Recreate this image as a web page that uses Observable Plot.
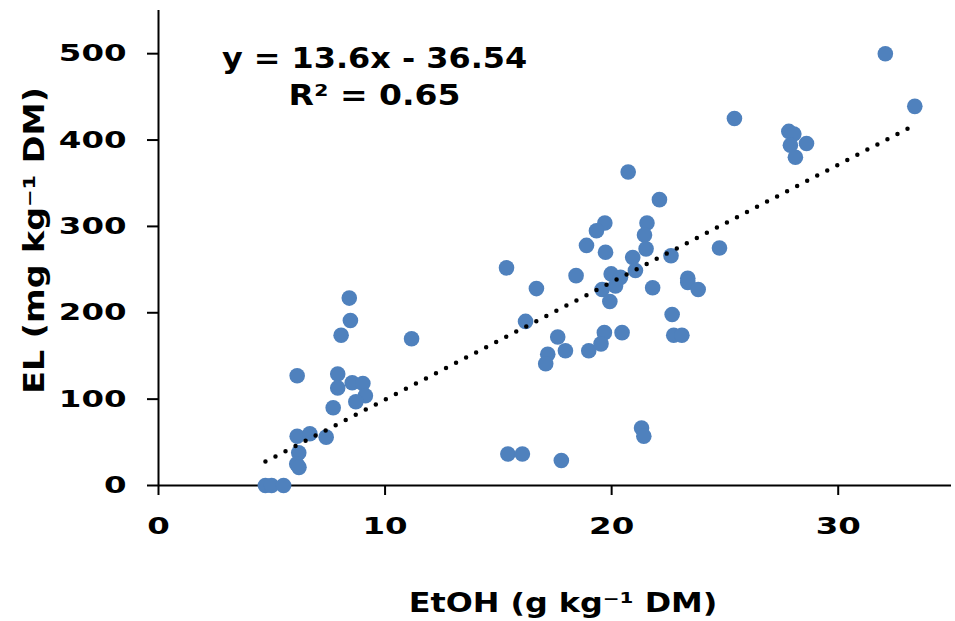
<!DOCTYPE html>
<html>
<head>
<meta charset="utf-8">
<script src="https://cdn.jsdelivr.net/npm/d3@7"></script>
<script src="https://cdn.jsdelivr.net/npm/@observablehq/plot@0.6"></script>
<style>
  html, body { margin: 0; padding: 0; background: #fff; }
</style>
</head>
<body>
<div id="chart"></div>
<script>
// EtOH (g kg-1 DM)
const etoh = [
  4.72, 4.99, 5.52,
  8.42, 8.47, 8.06, 11.17, 6.12, 7.91, 7.91, 8.55, 9.02, 9.13, 8.71, 7.71, 6.12, 6.68, 7.40, 6.19, 6.10, 6.20,
  20.73, 22.11, 19.70, 19.33, 21.56, 21.45, 21.52, 18.89, 19.73, 24.76, 22.62, 20.93, 21.05, 15.36, 18.43,
  19.98, 20.39, 20.17, 19.58, 19.92, 21.81, 23.36, 23.36, 23.82, 16.68, 22.67, 16.20, 17.62, 19.68, 20.46,
  22.74, 23.10,
  17.18, 17.09, 17.96, 18.99, 19.53, 21.32, 21.42, 15.42, 16.06, 17.78,
  32.08, 33.38, 25.42, 27.82, 28.04, 27.89, 28.60, 28.11
];
// EL (mg kg-1 DM)
const el = [
  0, 0, 0,
  217, 191, 174, 170, 127, 129, 113, 119, 118, 104, 97, 90, 57, 60, 56, 38, 25, 21,
  363, 331, 304, 295, 304, 290, 274, 278, 270, 275, 266, 264, 249, 252, 243,
  245, 241, 231, 227, 213, 229, 240, 235, 227, 228, 198, 190, 172, 177, 177,
  174, 174,
  152, 141, 156, 156, 164, 66.5, 57, 36.5, 36.5, 29,
  500, 439, 425, 410, 407, 394, 396, 380
];
// Linear trendline reported on the chart
const slope = 13.6;
const intercept = -36.54;
const equationText = "y = 13.6x - 36.54";
const r2Text = "R\u00B2 = 0.65";
const xTicks = [0, 10, 20, 30];
const yTicks = [0, 100, 200, 300, 400, 500];
const xTitle = "EtOH (g kg\u207B\u00B9 DM)";
const yTitle = "EL (mg kg\u207B\u00B9 DM)";

const points = etoh.map((x, i) => ({x, y: el[i]}));
const xMin = d3.min(etoh), xMax = d3.max(etoh);
const trend = [xMin, xMax].map(x => ({x, y: slope * x + intercept}));

const font = "DejaVu Sans";

const chart = Plot.plot({
  width: 955,
  height: 621,
  marginLeft: 158,
  marginRight: 4,
  marginTop: 10,
  marginBottom: 136,
  style: {fontFamily: font, fontWeight: "bold", color: "#000", background: "#fff"},
  x: {domain: [0, 35], axis: null},
  y: {domain: [0, 550], axis: null},
  marks: [
    Plot.ruleY([0], {stroke: "#000", strokeWidth: 2}),
    Plot.ruleX([0], {stroke: "#000", strokeWidth: 2}),
    Plot.axisX({ticks: xTicks, tickSize: 10, tickPadding: 22, fontSize: 23.5, fontWeight: "bold", strokeWidth: 2, label: null}),
    Plot.axisY({ticks: yTicks, tickSize: 11, tickPadding: 21, fontSize: 23.5, fontWeight: "bold", strokeWidth: 2, label: null}),
    Plot.dot(points, {x: "x", y: "y", r: 7.8, fill: "#4f81bd", stroke: null}),
    Plot.line(trend, {x: "x", y: "y", stroke: "#000", strokeWidth: 4.5, strokeDasharray: "0 11.3", strokeLinecap: "round"}),
    Plot.text([equationText], {text: d => d, frameAnchor: "top-left", dx: 216, dy: 49, textAnchor: "middle", lineAnchor: "middle", fontSize: 27.5, fontWeight: "bold", fill: "#000"}),
    Plot.text([r2Text], {text: d => d, frameAnchor: "top-left", dx: 216, dy: 86, textAnchor: "middle", lineAnchor: "middle", fontSize: 27.5, fontWeight: "bold", fill: "#000"}),
    Plot.text([xTitle], {text: d => d, frameAnchor: "bottom", dx: 8, dy: 118, textAnchor: "middle", lineAnchor: "middle", fontSize: 27, fontWeight: "bold", fill: "#000"}),
    Plot.text([yTitle], {text: d => d, frameAnchor: "top-left", dx: -123, dy: 230, rotate: -90, textAnchor: "middle", lineAnchor: "middle", fontSize: 28, fontWeight: "bold", fill: "#000"})
  ]
});

document.getElementById("chart").appendChild(chart);

function stretchText(t, s) {
  const tr = t.getAttribute("transform");
  if (tr) {
    t.setAttribute("transform", tr + ` scale(${s},1)`);
  } else {
    const x = +(t.getAttribute("x") || 0), y = +(t.getAttribute("y") || 0);
    t.setAttribute("transform", `translate(${x},${y}) scale(${s},1) translate(${-x},${-y})`);
  }
}

// horizontal stretch of the wide bold lettering
const stretch = new Map([[equationText, 1.16], [r2Text, 1.2], [xTitle, 1.18], [yTitle, 1.19]]);
chart.querySelectorAll("text").forEach(t => {
  const s = stretch.get(t.textContent);
  if (s) stretchText(t, s);
});
chart.querySelectorAll('g[aria-label="x-axis tick label"] text, g[aria-label="y-axis tick label"] text')
  .forEach(t => stretchText(t, 1.38));
</script>
</body>
</html>
